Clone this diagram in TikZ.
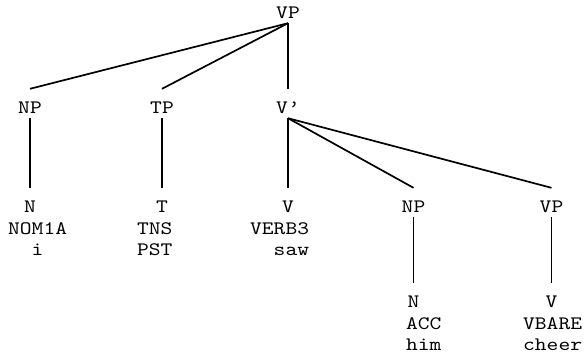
\documentclass[tikz,border=0pt]{standalone}
\usepackage{fontspec}
\newfontfamily\treefont{lmmono10-regular.otf}[FakeStretch=1.18]

\begin{document}
\begin{tikzpicture}
  [x=1pt,y=-1pt,
cat/.style={font=\treefont\fontsize{19pt}{21.5pt}\selectfont,inner sep=0pt,
text height=24pt,text depth=5pt,anchor=base},
gloss/.style={font=\treefont\fontsize{19pt}{21.5pt}\selectfont,inner sep=0pt,
align=left,anchor=north west},
branch/.style={line width=1.7pt}]
  \useasboundingbox (0,0) rectangle (587,360);
  \node[cat] (vp) at (288,18) {VP};
  \node[cat] (np) at (30,113) {NP};
  \node[cat] (tp) at (162,113) {TP};
  \node[cat] (vbar) at (288,113) {V’};
  \node[cat] (n) at (30,212) {N};
  \node[cat] (t) at (162,212) {T};
  \node[cat] (v) at (288,212) {V};
  \node[cat] (objnp) at (413.5,212) {NP};
  \node[cat] (barevp) at (551.5,212) {VP};
  \node[cat] (objn) at (413.5,307) {N};
  \node[cat] (barev) at (551.5,307) {V};
  \node[gloss] (ngloss) at (8,222) {NOM1A\\\hphantom{xx}i};
  \node[gloss] (tgloss) at (137,222) {TNS\\PST};
  \node[gloss] (vgloss) at (250,222) {VERB3\\\hphantom{xx}saw};
  \node[gloss] (objngloss) at (406,317) {ACC\\him};
  \node[gloss] (barevgloss) at (523,317) {VBARE\\cheer};

  \draw[branch] (vp.south) -- (np.north);
  \draw[branch] (vp.south) -- (tp.north);
  \draw[branch] (vp.south) -- (vbar.north);
  \draw[branch] (np.south) -- (n.north);
  \draw[branch] (tp.south) -- (t.north);
  \draw[branch] (vbar.south) -- (v.north);
  \draw[branch] (vbar.south) -- (objnp.north);
  \draw[branch] (vbar.south) -- (barevp.north);
  \draw[branch] (objnp.south) -- (objn.north);
  \draw[branch] (barevp.south) -- (barev.north);

\end{tikzpicture}
\end{document}
